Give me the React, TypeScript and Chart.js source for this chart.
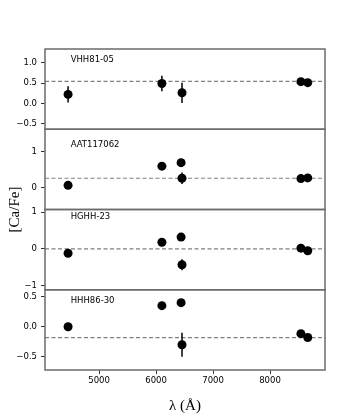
import React, { useEffect, useRef } from "react";
import { Chart, registerables } from "chart.js";

Chart.register(...registerables);

// ---------- data ----------
const panelNames = ["VHH81-05", "AAT117062", "HGHH-23", "HHH86-30"];
const wavelengths = [4455, 6102, 6439, 6455, 8542, 8662];

const caFeVHH8105 = [0.22, 0.49, null, 0.26, 0.535, 0.51];
const errVHH8105 = [0.2, 0.19, 0, 0.25, 0, 0];

const caFeAAT117062 = [0.06, 0.6, 0.7, 0.26, 0.25, 0.27];
const errAAT117062 = [0, 0, 0, 0.16, 0, 0];

const caFeHGHH23 = [-0.12, 0.18, 0.32, -0.43, 0.02, -0.05];
const errHGHH23 = [0, 0, 0, 0.15, 0, 0];

const caFeHHH8630 = [0.0, 0.35, 0.4, -0.3, -0.115, -0.18];
const errHHH8630 = [0.06, 0.04, 0.05, 0.2, 0, 0];

const meanCaFe = [0.54, 0.26, 0.0, -0.18];

const xTickValues = [5000, 6000, 7000, 8000];
const xMin = 4050;
const xMax = 8965;

const yTickValues = [
  [-0.5, 0, 0.5, 1.0],
  [0, 1],
  [-1, 0, 1],
  [-0.5, 0, 0.5],
];
const yMin = [-0.64, -0.62, -1.11, -0.72];
const yMax = [1.34, 1.64, 1.07, 0.615];
const yDecimals = [1, 0, 0, 1];

// label anchor in data coordinates (like matplotlib ax.text)
const labelLambda = [4500, 4500, 4500, 4500];
const labelCaFe = [1.07, 1.19, 0.86, 0.43];

const panelValues = [caFeVHH8105, caFeAAT117062, caFeHGHH23, caFeHHH8630];
const panelErrors = [errVHH8105, errAAT117062, errHGHH23, errHHH8630];

// ---------- styles ----------
const SANS = "'DejaVu Sans', sans-serif";
const SERIF = "'Liberation Serif', 'DejaVu Serif', serif";
const FRAME = "#6b6b6b";

const fmt = (v: number, d: number) => {
  const s = Math.abs(v).toFixed(d);
  return v < -1e-9 ? "\u2212" + s : s;
};

const errorBarPlugin = {
  id: "errorBars",
  afterDatasetsDraw(chart: any) {
    const ctx = chart.ctx;
    const xs = chart.scales.x;
    ctx.save();
    ctx.strokeStyle = "#000";
    ctx.lineWidth = 1.5;
    chart.data.datasets.forEach((ds: any, i: number) => {
      if (!ds.errs) return;
      const ys = chart.scales[ds.yAxisID];
      ds.data.forEach((p: any, j: number) => {
        const e = ds.errs[j];
        if (!e) return;
        const x = xs.getPixelForValue(p.x);
        ctx.beginPath();
        ctx.moveTo(x, ys.getPixelForValue(p.y - e));
        ctx.lineTo(x, ys.getPixelForValue(p.y + e));
        ctx.stroke();
      });
    });
    ctx.restore();
  },
};

const framePlugin = {
  id: "frames",
  afterDraw(chart: any) {
    const ctx = chart.ctx;
    const { left, right } = chart.chartArea;
    ctx.save();
    ctx.strokeStyle = FRAME;
    ctx.lineWidth = 1.5;
    panelNames.forEach((name, i) => {
      const ys = chart.scales["y" + i];
      ctx.strokeRect(left, ys.top, right - left, ys.bottom - ys.top);
      // panel label
      ctx.fillStyle = "#000";
      ctx.font = `8.5px ${SANS}`;
      ctx.textAlign = "left";
      ctx.textBaseline = "middle";
      ctx.fillText(
        name,
        chart.scales.x.getPixelForValue(labelLambda[i]),
        ys.getPixelForValue(labelCaFe[i])
      );
    });
    // axis titles
    const ca = chart.chartArea;
    ctx.fillStyle = "#000";
    ctx.font = `15px ${SERIF}`;
    ctx.textAlign = "center";
    ctx.textBaseline = "middle";
    ctx.fillText("\u03bb (\u00c5)", (ca.left + ca.right) / 2, 406);
    ctx.save();
    ctx.translate(15, (ca.top + ca.bottom) / 2);
    ctx.rotate(-Math.PI / 2);
    ctx.fillText("[Ca/Fe]", 0, 0);
    ctx.restore();
    ctx.restore();
  },
};

export default function App() {
  const ref = useRef<HTMLCanvasElement | null>(null);

  useEffect(() => {
    if (!ref.current) return;
    const datasets: any[] = [];
    const scales: any = {
      x: {
        type: "linear",
        min: xMin,
        max: xMax,
        afterBuildTicks: (axis: any) => {
          axis.ticks = xTickValues.map((v) => ({ value: v }));
        },
        afterFit: (axis: any) => {
          axis.height = 46;
        },
        grid: {
          display: true,
          drawOnChartArea: false,
          drawTicks: true,
          tickLength: 4,
          tickColor: "#333",
        },
        border: { display: false },
        ticks: {
          font: { family: SANS, size: 8.5 },
          color: "#000",
          padding: 2,
          maxRotation: 0,
          callback: (v: any) => String(v),
        },
      },
    };

    panelNames.forEach((name, i) => {
      const pts = wavelengths
        .map((w, j) => ({ x: w, y: panelValues[i][j], e: panelErrors[i][j] }))
        .filter((p) => p.y !== null);
      datasets.push({
        type: "scatter",
        label: name,
        data: pts.map((p) => ({ x: p.x, y: p.y })),
        errs: pts.map((p) => p.e),
        yAxisID: "y" + i,
        pointRadius: 4.5,
        pointBackgroundColor: "#000",
        pointBorderWidth: 0,
        backgroundColor: "#000",
        borderColor: "#000",
        order: 1,
      });
      datasets.push({
        type: "line",
        label: name + " mean",
        data: [
          { x: xMin, y: meanCaFe[i] },
          { x: xMax, y: meanCaFe[i] },
        ],
        yAxisID: "y" + i,
        borderColor: "#808080",
        borderWidth: 1.2,
        borderDash: [4, 2.5],
        pointRadius: 0,
        fill: false,
        order: 2,
      });
      const d = yDecimals[i];
      scales["y" + i] = {
        type: "linear",
        position: "left",
        stack: "panels",
        stackWeight: 1,
        weight: 4 - i,
        min: yMin[i],
        max: yMax[i],
        afterBuildTicks: (axis: any) => {
          axis.ticks = yTickValues[i].map((v) => ({ value: v }));
        },
        afterFit: (axis: any) => {
          axis.width = 45;
        },
        grid: {
          display: true,
          drawOnChartArea: false,
          drawTicks: true,
          tickLength: 4,
          tickColor: "#333",
        },
        border: { display: false },
        ticks: {
          font: { family: SANS, size: 8.5 },
          color: "#000",
          padding: 4,
          callback: (v: any) => fmt(Number(v), d),
        },
      };
    });

    const chart = new Chart(ref.current, {
      type: "scatter",
      data: { datasets },
      options: {
        animation: false,
        responsive: false,
        devicePixelRatio: 1,
        layout: { padding: { left: 0, right: 37, top: 49, bottom: 0 } },
        plugins: {
          legend: { display: false },
          tooltip: { enabled: false },
        },
        scales,
      } as any,
      plugins: [errorBarPlugin, framePlugin],
    });
    return () => chart.destroy();
  }, []);

  return (
    <div style={{ position: "fixed", left: 0, top: 0, width: 362, height: 416, background: "#fff" }}>
      <canvas ref={ref} width={362} height={416} />
    </div>
  );
}
